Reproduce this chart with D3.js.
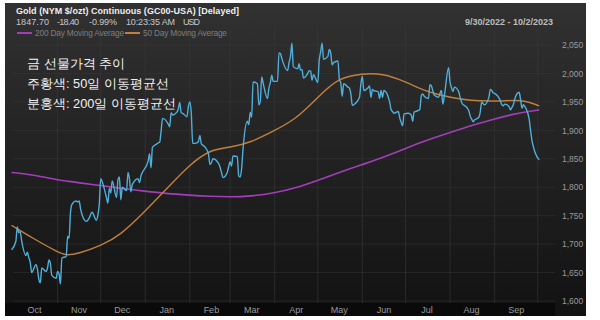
<html>
<head>
<meta charset="utf-8">
<script src="https://d3js.org/d3.v7.min.js"></script>
<style>
  body { margin: 0; background: #fff; }
  text { font-family: "Liberation Sans", Arial, sans-serif; }
</style>
</head>
<body></body>
<script>
// gold front-month continuous price
const goldPrice = [
  ["2022-09-30",1690],["2022-10-03",1705],["2022-10-04",1730],["2022-10-05",1720],["2022-10-06",1722],["2022-10-07",1706],
  ["2022-10-10",1680],["2022-10-11",1686],["2022-10-12",1676],["2022-10-13",1668],["2022-10-14",1650],
  ["2022-10-17",1664],["2022-10-18",1656],["2022-10-19",1638],["2022-10-20",1632],["2022-10-21",1658],
  ["2022-10-24",1652],["2022-10-25",1658],["2022-10-26",1672],["2022-10-27",1666],["2022-10-28",1645],
  ["2022-10-31",1640],["2022-11-01",1652],["2022-11-02",1648],["2022-11-03",1630],["2022-11-04",1676],
  ["2022-11-07",1678],["2022-11-08",1714],["2022-11-09",1710],["2022-11-10",1756],["2022-11-11",1770],
  ["2022-11-14",1776],["2022-11-15",1774],["2022-11-16",1776],["2022-11-17",1762],["2022-11-18",1752],
  ["2022-11-21",1740],["2022-11-22",1742],["2022-11-23",1746],["2022-11-25",1756],
  ["2022-11-28",1742],["2022-11-29",1750],["2022-11-30",1770],["2022-12-01",1815],["2022-12-02",1810],
  ["2022-12-05",1782],["2022-12-06",1772],["2022-12-07",1798],["2022-12-08",1790],["2022-12-09",1811],
  ["2022-12-12",1782],["2022-12-13",1813],["2022-12-14",1818],["2022-12-15",1778],["2022-12-16",1800],
  ["2022-12-19",1794],["2022-12-20",1826],["2022-12-21",1815],["2022-12-22",1792],["2022-12-23",1805],
  ["2022-12-27",1815],["2022-12-28",1808],["2022-12-29",1820],["2022-12-30",1826],
  ["2023-01-03",1846],["2023-01-04",1859],["2023-01-05",1834],["2023-01-06",1870],
  ["2023-01-09",1876],["2023-01-10",1878],["2023-01-11",1879],["2023-01-12",1898],["2023-01-13",1921],
  ["2023-01-17",1911],["2023-01-18",1906],["2023-01-19",1931],["2023-01-20",1927],
  ["2023-01-23",1932],["2023-01-24",1938],["2023-01-25",1949],["2023-01-26",1931],["2023-01-27",1930],
  ["2023-01-30",1924],["2023-01-31",1942],["2023-02-01",1950],["2023-02-02",1931],["2023-02-03",1877],
  ["2023-02-06",1878],["2023-02-07",1881],["2023-02-08",1891],["2023-02-09",1876],["2023-02-10",1874],
  ["2023-02-13",1865],["2023-02-14",1858],["2023-02-15",1840],["2023-02-16",1843],["2023-02-17",1850],
  ["2023-02-21",1842],["2023-02-22",1835],["2023-02-23",1826],["2023-02-24",1817],
  ["2023-02-27",1826],["2023-02-28",1836],["2023-03-01",1845],["2023-03-02",1837],["2023-03-03",1855],
  ["2023-03-06",1854],["2023-03-07",1820],["2023-03-08",1818],["2023-03-09",1832],["2023-03-10",1867],
  ["2023-03-13",1916],["2023-03-14",1910],["2023-03-15",1932],["2023-03-16",1923],["2023-03-17",1985],
  ["2023-03-20",1982],["2023-03-21",1945],["2023-03-22",1950],["2023-03-23",1994],["2023-03-24",1983],
  ["2023-03-27",1956],["2023-03-28",1974],["2023-03-29",1984],["2023-03-30",1997],["2023-03-31",1986],
  ["2023-04-03",1986],["2023-04-04",2036],["2023-04-05",2035],["2023-04-06",2026],
  ["2023-04-10",2005],["2023-04-11",2019],["2023-04-12",2030],["2023-04-13",2053],["2023-04-14",2012],
  ["2023-04-17",2008],["2023-04-18",2017],["2023-04-19",2006],["2023-04-20",2007],["2023-04-21",1992],
  ["2023-04-24",2000],["2023-04-25",2005],["2023-04-26",2004],["2023-04-27",1988],["2023-04-28",1998],
  ["2023-05-01",1984],["2023-05-02",2023],["2023-05-03",2038],["2023-05-04",2053],["2023-05-05",2025],
  ["2023-05-08",2030],["2023-05-09",2042],["2023-05-10",2036],["2023-05-11",2015],["2023-05-12",2019],
  ["2023-05-15",2022],["2023-05-16",1990],["2023-05-17",1983],["2023-05-18",1960],["2023-05-19",1982],
  ["2023-05-22",1976],["2023-05-23",1974],["2023-05-24",1964],["2023-05-25",1944],["2023-05-26",1945],
  ["2023-05-30",1958],["2023-05-31",1982],["2023-06-01",1995],["2023-06-02",1970],
  ["2023-06-05",1975],["2023-06-06",1978],["2023-06-07",1958],["2023-06-08",1972],["2023-06-09",1970],
  ["2023-06-12",1968],["2023-06-13",1956],["2023-06-14",1970],["2023-06-15",1958],["2023-06-16",1970],
  ["2023-06-20",1950],["2023-06-21",1936],["2023-06-22",1933],["2023-06-23",1930],
  ["2023-06-26",1933],["2023-06-27",1922],["2023-06-28",1914],["2023-06-29",1908],["2023-06-30",1929],
  ["2023-07-03",1930],["2023-07-05",1927],["2023-07-06",1916],["2023-07-07",1932],
  ["2023-07-10",1935],["2023-07-11",1937],["2023-07-12",1961],["2023-07-13",1964],["2023-07-14",1960],
  ["2023-07-17",1956],["2023-07-18",1980],["2023-07-19",1978],["2023-07-20",1970],["2023-07-21",1962],
  ["2023-07-24",1958],["2023-07-25",1965],["2023-07-26",1970],["2023-07-27",1946],["2023-07-28",1960],
  ["2023-07-31",2010],["2023-08-01",1985],["2023-08-02",1975],["2023-08-03",1968],["2023-08-04",1976],
  ["2023-08-07",1968],["2023-08-08",1958],["2023-08-09",1950],["2023-08-10",1945],["2023-08-11",1944],
  ["2023-08-14",1935],["2023-08-15",1925],["2023-08-16",1920],["2023-08-17",1915],["2023-08-18",1918],
  ["2023-08-21",1923],["2023-08-22",1932],["2023-08-23",1950],["2023-08-24",1947],["2023-08-25",1945],
  ["2023-08-28",1958],["2023-08-29",1972],["2023-08-30",1970],["2023-08-31",1966],["2023-09-01",1965],
  ["2023-09-05",1952],["2023-09-06",1945],["2023-09-07",1943],["2023-09-08",1946],
  ["2023-09-11",1942],["2023-09-12",1936],["2023-09-13",1940],["2023-09-14",1945],["2023-09-15",1955],
  ["2023-09-18",1967],["2023-09-19",1955],["2023-09-20",1939],["2023-09-21",1945],["2023-09-22",1942],
  ["2023-09-25",1920],["2023-09-26",1900],["2023-09-27",1882],["2023-09-28",1871],["2023-09-29",1862],
  ["2023-10-02",1848]
];

const maDates = ["2022-09-30","2022-10-15","2022-11-01","2022-11-07","2022-11-15","2022-12-01","2022-12-15",
  "2023-01-01","2023-01-15","2023-02-01","2023-02-15","2023-03-01","2023-03-15","2023-04-01","2023-04-15",
  "2023-05-01","2023-05-15","2023-06-01","2023-06-15","2023-07-01","2023-07-15","2023-08-01","2023-08-15",
  "2023-09-01","2023-09-15","2023-09-22","2023-10-02"];
const ma50  = [1733,1710,1686,1680,1683,1697,1716,1758,1795,1840,1866,1870,1878,1900,1918,1958,1992,2000,2000,1986,1968,1958,1952,1951,1953,1952,1943];
const ma200 = [1826,1822,1813,1811,1808,1803,1798,1793,1789,1786,1784,1783,1784,1790,1798,1812,1825,1840,1852,1868,1882,1896,1908,1920,1929,1932,1936];

const yTicks = [1600,1650,1700,1750,1800,1850,1900,1950,2000,2050];
const monthLabels = ["Oct","Nov","Dec","Jan","Feb","Mar","Apr","May","Jun","Jul","Aug","Sep"];

const title = "Gold (NYM $/ozt) Continuous (GC00-USA) [Delayed]";
const quote = ["1847.70","-18.40","-0.99%","10:23:35 AM","USD"];
const dateRange = "9/30/2022 - 10/2/2023";
const notes = ["금 선물가격 추이","주황색: 50일 이동평균선","분홍색: 200일 이동평균선"];

const W = 600, H = 320;
const box = {x0: 5, y0: 3, x1: 586, y1: 316};
const plot = {x0: 13, y0: 28, x1: 555, y1: 303};
const parse = d3.timeParse("%Y-%m-%d");

// nudge a text to a given width with letter-spacing
function fitWidth(sel, target) {
  sel.each(function() {
    const w = this.getComputedTextLength();
    const n = this.textContent.length;
    if (n > 1) d3.select(this).attr("letter-spacing", (target - w) / (n - 1));
  });
}

const svg = d3.select("body").append("svg").attr("width", W).attr("height", H);
const defs = svg.append("defs");
const g1 = defs.append("linearGradient").attr("id","bg").attr("x1",0).attr("y1",0).attr("x2",0).attr("y2",1);
g1.append("stop").attr("offset","0%").attr("stop-color","#313131");
g1.append("stop").attr("offset","100%").attr("stop-color","#121212");

svg.append("rect").attr("x",box.x0).attr("y",box.y0).attr("width",box.x1-box.x0).attr("height",box.y1-box.y0)
  .attr("fill","url(#bg)");
svg.append("rect").attr("x",box.x0).attr("y",plot.y1).attr("width",plot.x1-box.x0).attr("height",box.y1-plot.y1)
  .attr("fill","#0a0a0a");

const x = d3.scaleTime().domain([parse("2022-10-01"), parse("2023-10-13")]).range([plot.x0, plot.x1]);
const y = d3.scaleLinear().domain([1600, 2050]).range([301, 45]);

// grid
const months = d3.timeMonth.range(parse("2022-11-01"), parse("2023-10-02"));
svg.append("g").selectAll("line").data(months).join("line")
  .attr("x1", d => x(d)).attr("x2", d => x(d)).attr("y1", plot.y0).attr("y2", plot.y1)
  .attr("stroke","#3a3a3a").attr("stroke-opacity",0.55).attr("stroke-width",1);
svg.append("g").selectAll("line").data(yTicks).join("line")
  .attr("x1", plot.x0).attr("x2", plot.x1).attr("y1", d => y(d)).attr("y2", d => y(d))
  .attr("stroke","#3a3a3a").attr("stroke-opacity",0.45).attr("stroke-width",1);

// right axis
const yAxis = d3.axisRight(y).tickValues(yTicks).tickSize(0).tickPadding(7).tickFormat(d3.format(","));
const ya = svg.append("g").attr("transform",`translate(${plot.x1},0)`).call(yAxis);
ya.select(".domain").remove();
ya.selectAll("text").attr("fill","#9a9a9a").attr("font-size",8.5);

// month labels
const monthStarts = d3.timeMonth.range(parse("2022-10-01"), parse("2023-10-01"));
svg.append("g").selectAll("text").data(monthStarts).join("text")
  .attr("x", d => x(d3.timeDay.offset(d, 15))).attr("y", 313)
  .attr("text-anchor","middle").attr("fill","#9a9a9a").attr("font-size",9)
  .text((d,i) => monthLabels[i]);

// lines
const line = d3.line().x(d => x(d[0])).y(d => y(d[1])).curve(d3.curveMonotoneX);
const maLine = d3.line().x(d => x(d[0])).y(d => y(d[1])).curve(d3.curveBasis);

svg.append("path").datum(maDates.map((d,i) => [parse(d), ma200[i]]))
  .attr("d", maLine).attr("fill","none").attr("stroke","#a53cbc").attr("stroke-width",1.6);
svg.append("path").datum(maDates.map((d,i) => [parse(d), ma50[i]]))
  .attr("d", maLine).attr("fill","none").attr("stroke","#c07f3e").attr("stroke-width",1.4);
svg.append("path").datum(goldPrice.map(d => [parse(d[0]), d[1]]))
  .attr("d", line).attr("fill","none").attr("stroke","#4fafda").attr("stroke-width",1.4);

// header
svg.append("text").attr("x",16).attr("y",14).attr("fill","#eeeeee").attr("font-size",9).attr("font-weight","bold")
  .text(title).call(fitWidth, 223);

const quoteX = [16, 57, 89, 126, 183];
const quoteW = [33, 22, 28, 49, 17];
svg.append("g").selectAll("text").data(quote).join("text")
  .attr("x", (d,i) => quoteX[i]).attr("y",25).attr("fill","#c8c8c8").attr("font-size",9)
  .text(d => d).each(function(d,i){ d3.select(this).call(fitWidth, quoteW[i]); });

svg.append("text").attr("x",553).attr("y",25).attr("text-anchor","end").attr("fill","#bdbdbd").attr("font-size",9)
  .attr("font-weight","bold").text(dateRange);

const legend = [{label:"200 Day Moving Average", color:"#a53cbc", x:17, w:89}, {label:"50 Day Moving Average", color:"#c07f3e", x:125, w:84}];
const lg = svg.append("g").selectAll("g").data(legend).join("g").attr("transform", d => `translate(${d.x},33)`);
lg.append("line").attr("x1",0).attr("x2",15).attr("stroke", d => d.color).attr("stroke-width",2);
lg.append("text").attr("x",18).attr("y",3).attr("fill","#7e7e7e").attr("font-size",8.3)
  .text(d => d.label).each(function(d){ d3.select(this).call(fitWidth, d.w); });

// korean annotation
svg.append("g").selectAll("text").data(notes).join("text")
  .attr("x",27).attr("y",(d,i) => 68 + i*20)
  .attr("fill","#f2f2f2").attr("font-size",12.8).attr("font-weight",500)
  .attr("font-family",'"Noto Sans CJK KR", "Noto Sans", sans-serif')
  .text(d => d);
</script>
</html>
